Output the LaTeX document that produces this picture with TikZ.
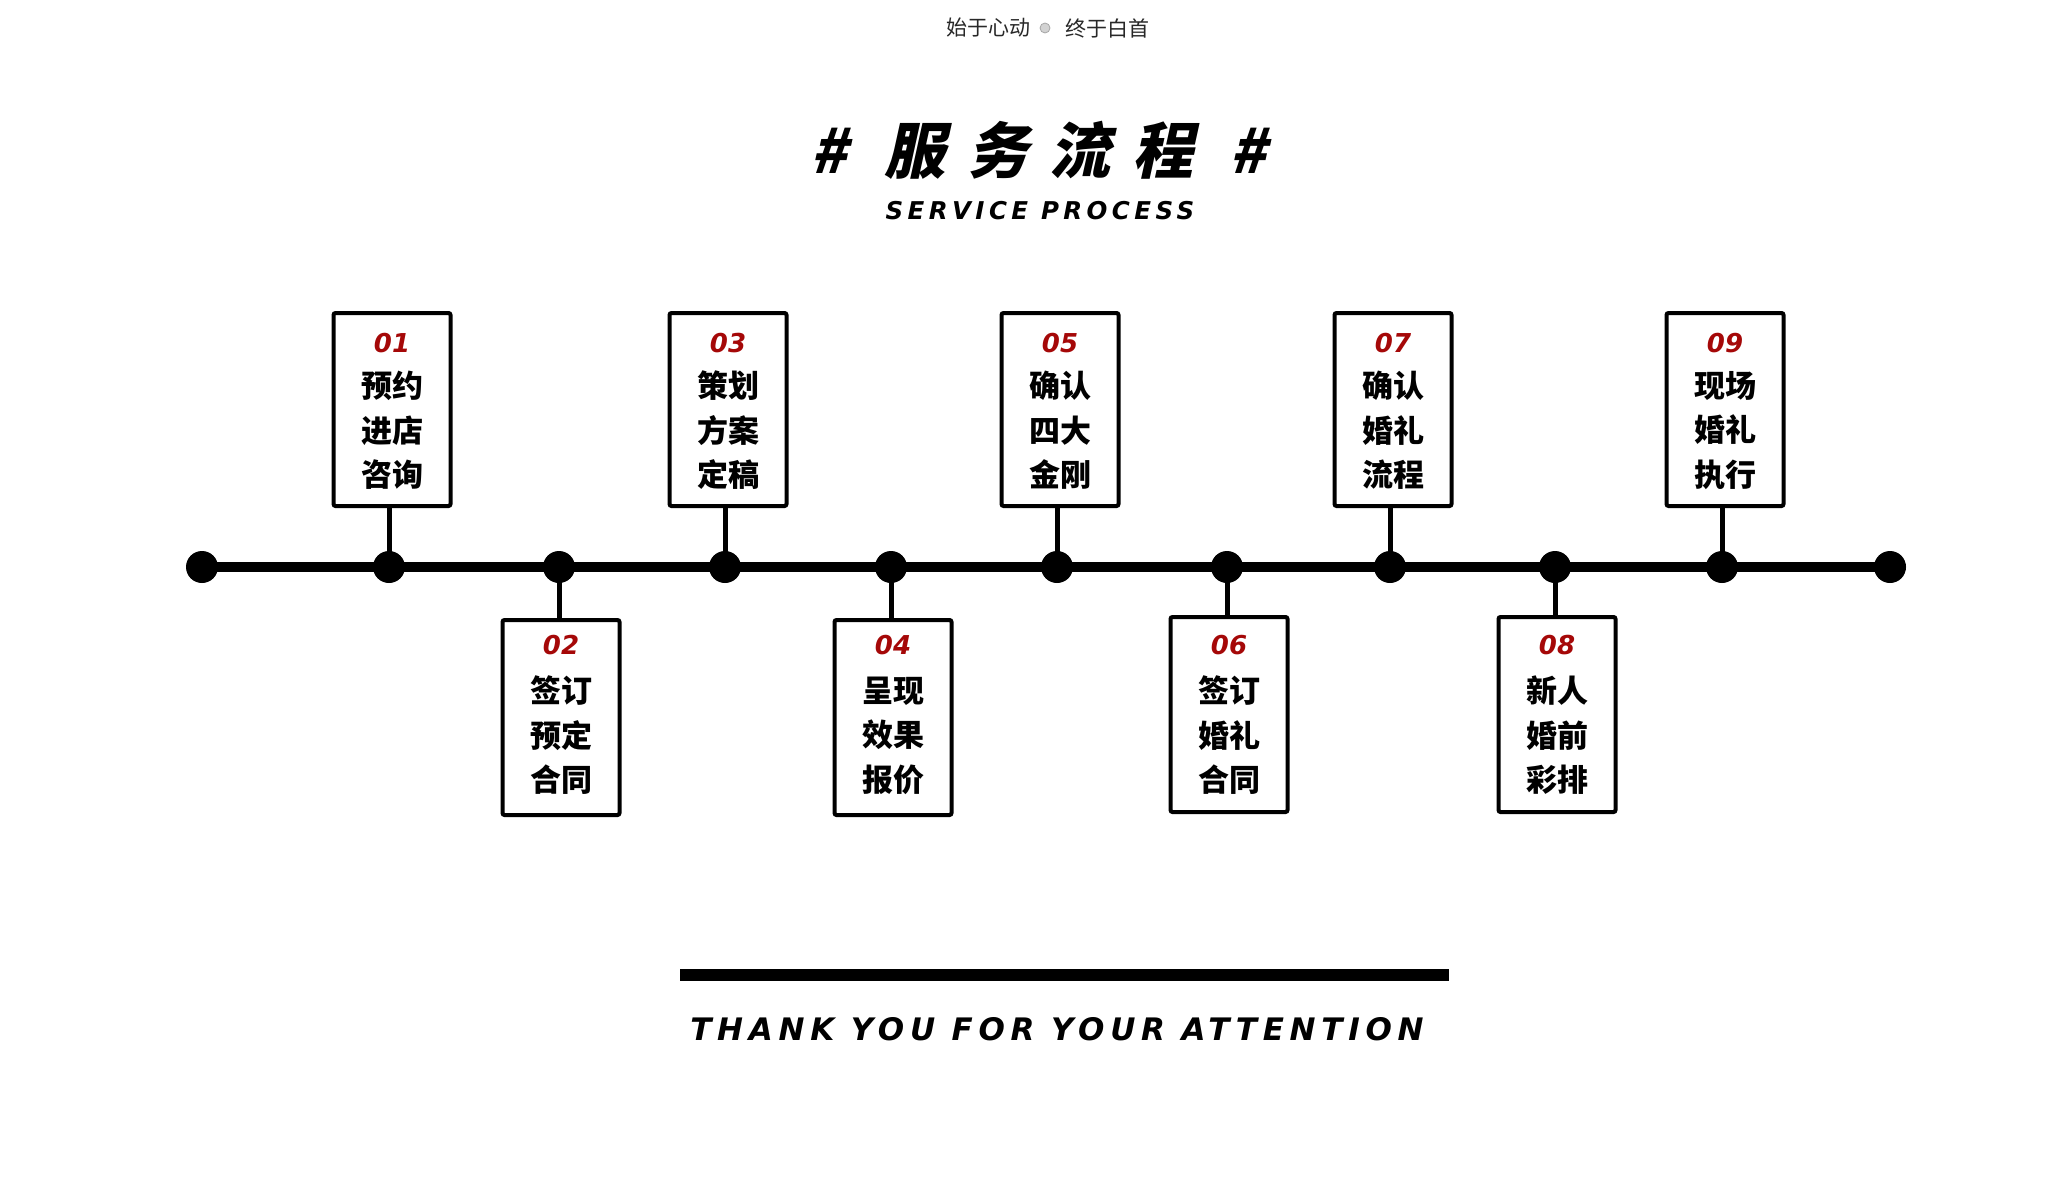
\documentclass[tikz,border=0pt]{standalone}
\usepackage{fontspec}
\newfontfamily\cjk{Noto Sans CJK SC}
\newfontfamily\cjktitle{Noto Sans CJK SC}[FakeSlant=0.22,LetterSpace=36]
\newfontfamily\tech{DejaVu Sans}
\newfontfamily\techwide{DejaVu Sans}[LetterSpace=18]
\newfontfamily\techthanks{DejaVu Sans}[LetterSpace=18.5]
\definecolor{numred}{RGB}{165,8,8}
\definecolor{subgray}{RGB}{40,40,40}
\begin{document}
\begin{tikzpicture}[x=1pt,y=-1pt,
  stepbox/.style={draw=black,line width=4pt,rounded corners=2pt,fill=white,
    minimum width=117pt,inner sep=0pt},
  dotnode/.style={circle,fill=black,minimum size=32pt,inner sep=0pt},
  mainline/.style={line width=10pt},
  stem/.style={line width=5pt},
  numtext/.style={inner sep=0pt,text=numred,font=\tech\bfseries\itshape\fontsize{26}{26}\selectfont},
  labeltext/.style={inner sep=0pt,align=center,font=\cjk\bfseries\fontsize{31}{44.5}\selectfont},
]
\useasboundingbox (0,0) rectangle (2060,1201);
\fill[white] (0,0) rectangle (2060,1201);

% header
\node[inner sep=0pt,anchor=east,text=subgray,font=\cjk\fontsize{21}{21}\selectfont] (subl) at (1031,28) {始于心动};
\node[circle,draw=gray!70,fill=gray!35,line width=0.8pt,minimum size=10pt,inner sep=0pt] (icon) at (1045,28) {};
\node[inner sep=0pt,anchor=west,text=subgray,font=\cjk\fontsize{21}{21}\selectfont] (subr) at (1065,28) {终于白首};
\node[inner sep=0pt,font=\cjktitle\bfseries\fontsize{61}{61}\selectfont] (title) at (1039,150) {\# 服务流程 \#};
\node[inner sep=0pt,font=\techwide\bfseries\itshape\fontsize{24.5}{24.5}\selectfont] (subtitle) at (1040,211) {SERVICE PROCESS};

% timeline dots
\foreach \n/\x in {00/202,01/389,02/559,03/725,04/891,05/1057,06/1227,07/1390,08/1555,09/1722,10/1890}
  \node[dotnode] (d\n) at (\x,567) {};
\draw[mainline] (d00.center) -- (d10.center);

% upper boxes
\foreach \i/\x/\a/\b/\c in {01/389/预约/进店/咨询,03/725/策划/方案/定稿,05/1057/确认/四大/金刚,07/1390/确认/婚礼/流程,09/1722/现场/婚礼/执行}{
  \node[stepbox,minimum height=193pt] (b\i) at ({\x+3},409.5) {};
  \node[numtext] (n\i) at ({\x+3},343.5) {\i};
  \node[labeltext] (l\i) at ({\x+3},430.5) {\a\\\b\\\c};
  \draw[stem] (d\i.center |- b\i.south) -- (d\i.center);
}
% lower boxes
\foreach \i/\x/\t/\a/\b/\c in {02/559/618/签订/预定/合同,04/891/618/呈现/效果/报价,06/1227/615/签订/婚礼/合同,08/1555/615/新人/婚前/彩排}{
  \node[stepbox,minimum height=195pt] (b\i) at ({\x+2},{\t+99.5}) {};
  \node[numtext] (n\i) at ({\x+2},645.5) {\i};
  \node[labeltext] (l\i) at ({\x+2},735.5) {\a\\\b\\\c};
  \draw[stem] (d\i.center) -- (d\i.center |- b\i.north);
}

% footer
\coordinate (barl) at (680,975);
\coordinate (barr) at (1449,975);
\draw[line width=12pt] (barl) -- (barr);
\node[inner sep=0pt,font=\techthanks\bfseries\itshape\fontsize{31}{31}\selectfont] (thanks) at (1057,1029) {THANK YOU FOR YOUR ATTENTION};
\end{tikzpicture}
\end{document}
